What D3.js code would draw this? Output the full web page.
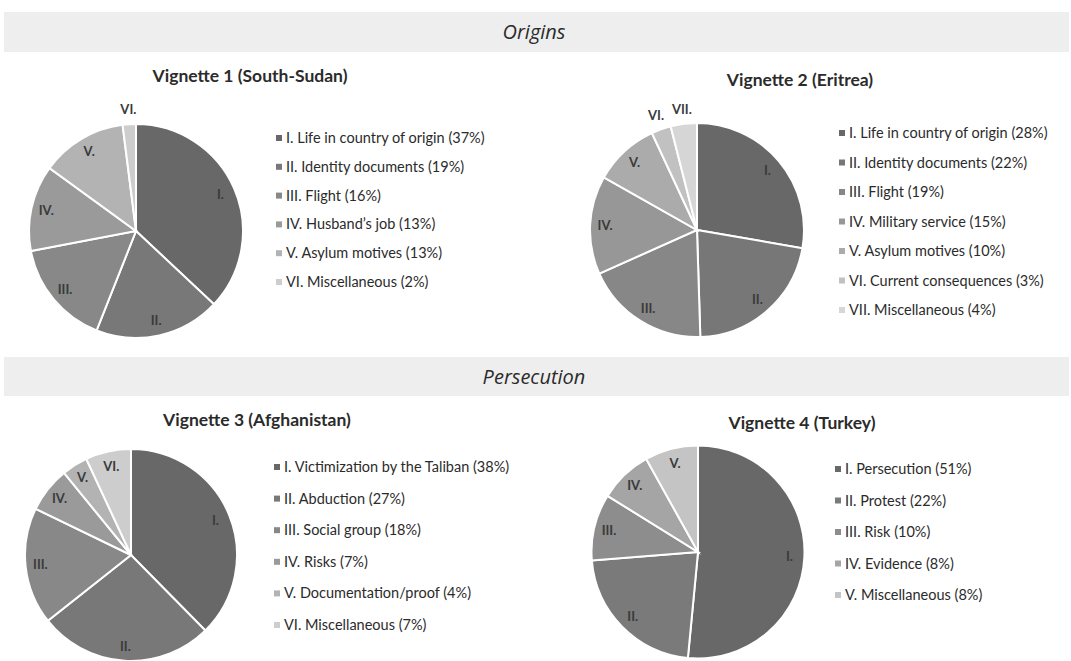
<!DOCTYPE html>
<html>
<head>
<meta charset="utf-8">
<script src="https://cdn.jsdelivr.net/npm/d3@7"></script>
<style>
  body { margin: 0; background: #fff; }
  text { font-family: Lato, "Open Sans", sans-serif; fill: #2b2b2b; }
</style>
</head>
<body>
<div id="chart"></div>
<script>
const W = 1071
const H = 661

// section headers
const sections = ['Origins', 'Persecution']

// Vignette 1
const v1Keys = ['I.', 'II.', 'III.', 'IV.', 'V.', 'VI.']
const v1Names = ['Life in country of origin', 'Identity documents', 'Flight', 'Husband’s job', 'Asylum motives', 'Miscellaneous']
const v1Values = [37, 19, 16, 13, 13, 2]

// Vignette 2
const v2Keys = ['I.', 'II.', 'III.', 'IV.', 'V.', 'VI.', 'VII.']
const v2Names = ['Life in country of origin', 'Identity documents', 'Flight', 'Military service', 'Asylum motives', 'Current consequences', 'Miscellaneous']
const v2Values = [28, 22, 19, 15, 10, 3, 4]

// Vignette 3
const v3Keys = ['I.', 'II.', 'III.', 'IV.', 'V.', 'VI.']
const v3Names = ['Victimization by the Taliban', 'Abduction', 'Social group', 'Risks', 'Documentation/proof', 'Miscellaneous']
const v3Values = [38, 27, 18, 7, 4, 7]

// Vignette 4
const v4Keys = ['I.', 'II.', 'III.', 'IV.', 'V.']
const v4Names = ['Persecution', 'Protest', 'Risk', 'Evidence', 'Miscellaneous']
const v4Values = [51, 22, 10, 8, 8]

const shades6 = ['#686868', '#787878', '#888888', '#9a9a9a', '#b3b3b3', '#cdcdcd']
const shades7 = ['#686868', '#777777', '#878787', '#979797', '#ababab', '#c1c1c1', '#d6d6d6']
const shades5 = ['#686868', '#7a7a7a', '#8d8d8d', '#a5a5a5', '#c4c4c4']

const charts = [
  { title: 'Vignette 1 (South-Sudan)', keys: v1Keys, names: v1Names, values: v1Values, colors: shades6,
    cx: 136, cy: 231, r: 107, titleX: 250, titleY: 82, legX: 279, legY: 138, legStep: 28.8, outside: ['VI.'] },
  { title: 'Vignette 2 (Eritrea)', keys: v2Keys, names: v2Names, values: v2Values, colors: shades7,
    cx: 697, cy: 230, r: 107, titleX: 800, titleY: 86, legX: 842, legY: 133, legStep: 29.5, outside: ['VI.', 'VII.'] },
  { title: 'Vignette 3 (Afghanistan)', keys: v3Keys, names: v3Names, values: v3Values, colors: shades6,
    cx: 131, cy: 555, r: 106, titleX: 257, titleY: 426, legX: 277, legY: 467, legStep: 31.6, outside: [] },
  { title: 'Vignette 4 (Turkey)', keys: v4Keys, names: v4Names, values: v4Values, colors: shades5,
    cx: 698, cy: 552, r: 106.5, titleX: 802, titleY: 429, legX: 838, legY: 469, legStep: 31.5, outside: [] }
]

const svg = d3.select('#chart').append('svg')
  .attr('width', W)
  .attr('height', H)

// header bands
const bands = [{ y: 12, h: 40 }, { y: 357, h: 39 }]
bands.forEach((b, i) => {
  svg.append('rect')
    .attr('x', 4)
    .attr('y', b.y)
    .attr('width', W - 6)
    .attr('height', b.h)
    .attr('fill', '#eeeeee')
  svg.append('text')
    .text(sections[i])
    .attr('x', 534)
    .attr('y', b.y + b.h / 2 + 7)
    .attr('text-anchor', 'middle')
    .attr('style', 'font-size: 20px; font-style: italic; font-family: "Open Sans", sans-serif')
})

const pie = d3.pie().sort(null).value(d => d.value)

charts.forEach(c => {
  const data = c.keys.map((k, i) => ({ key: k, name: c.names[i], value: c.values[i], color: c.colors[i] }))
  const arc = d3.arc().innerRadius(0).outerRadius(c.r)
  const labelArc = d3.arc().innerRadius(c.r * 0.86).outerRadius(c.r * 0.86)
  const outArc = d3.arc().innerRadius(c.r * 1.14).outerRadius(c.r * 1.14)

  svg.append('text')
    .text(c.title)
    .attr('x', c.titleX)
    .attr('y', c.titleY)
    .attr('text-anchor', 'middle')
    .attr('style', 'font-size: 17.5px; font-weight: bold')

  const g = svg.append('g').attr('transform', `translate(${c.cx},${c.cy})`)
  const arcs = pie(data)

  g.selectAll('path')
    .data(arcs)
    .join('path')
    .attr('d', arc)
    .attr('fill', d => d.data.color)
    .attr('stroke', '#fff')
    .attr('stroke-width', 2)

  g.selectAll('text.lbl')
    .data(arcs)
    .join('text')
    .attr('class', 'lbl')
    .text(d => d.data.key)
    .attr('transform', d => {
      const p = c.outside.includes(d.data.key) ? outArc.centroid(d) : labelArc.centroid(d)
      return `translate(${p})`
    })
    .attr('text-anchor', 'middle')
    .attr('dy', '0.35em')
    .attr('style', 'font-size: 13px; font-weight: bold; fill: #3a3a3a')

  const leg = svg.append('g')
  data.forEach((d, i) => {
    const y = c.legY + c.legStep * i
    leg.append('rect')
      .attr('x', c.legX - 3)
      .attr('y', y - 3)
      .attr('width', 6)
      .attr('height', 6)
      .attr('fill', d.color)
    leg.append('text')
      .text(`${d.key} ${d.name} (${d.value}%)`)
      .attr('x', c.legX + 7)
      .attr('y', y)
      .attr('dy', '0.35em')
      .attr('style', 'font-size: 14.5px')
  })
})
</script>
</body>
</html>
